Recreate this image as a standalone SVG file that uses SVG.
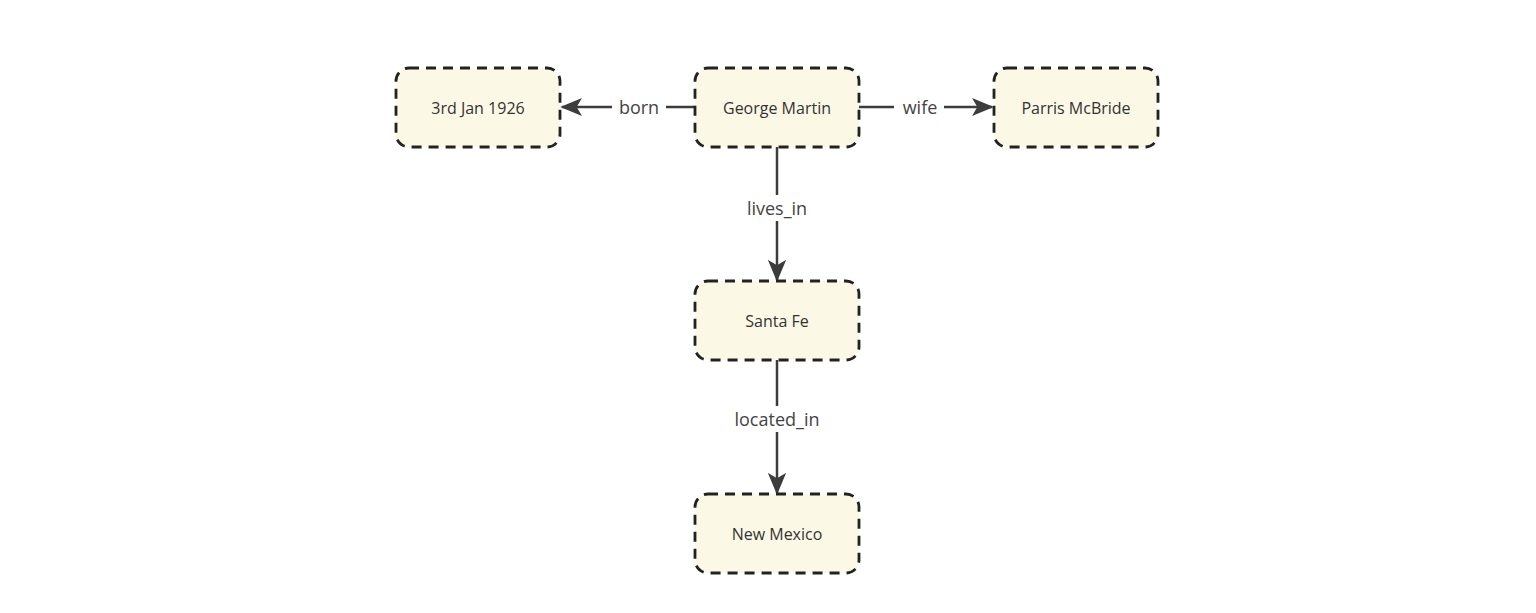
<svg xmlns="http://www.w3.org/2000/svg" width="1536" height="613" viewBox="0 0 1536 613">
<style>
.node rect{fill:#fcf8e6;stroke:#222;stroke-width:2.8;stroke-dasharray:10 7}
.node text{font-family:"Open Sans",sans-serif;font-size:16px;fill:#333;text-anchor:middle;dominant-baseline:central}
.edge{stroke:#3c3c3c;stroke-width:2.5;fill:none}
.lbl{font-family:"Open Sans",sans-serif;font-size:18px;fill:#444;text-anchor:middle;dominant-baseline:central}
.lblbg{fill:#fff}
</style>
<defs>
<marker id="arr" viewBox="0 0 12 12" refX="11" refY="6" markerWidth="22" markerHeight="22" markerUnits="userSpaceOnUse" orient="auto">
<path d="M0,1 L12,6 L0,11 L3,6 Z" fill="#3c3c3c"/>
</marker>
</defs>
<rect width="1536" height="613" fill="#fff"/>
<g id="connectors">
<line class="edge" x1="695" y1="107" x2="562" y2="107" marker-end="url(#arr)"/>
<line class="edge" x1="859" y1="107" x2="992" y2="107" marker-end="url(#arr)"/>
<line class="edge" x1="777" y1="147" x2="777" y2="280" marker-end="url(#arr)"/>
<line class="edge" x1="777" y1="360" x2="777" y2="493" marker-end="url(#arr)"/>
<rect class="lblbg" x="612" y="95" width="54" height="24"/>
<text class="lbl" x="639" y="107">born</text>
<rect class="lblbg" x="894" y="95" width="50" height="24"/>
<text class="lbl" x="920" y="107">wife</text>
<rect class="lblbg" x="738" y="195" width="78" height="26"/>
<text class="lbl" x="777" y="208">lives_in</text>
<rect class="lblbg" x="726" y="406" width="102" height="26"/>
<text class="lbl" x="777" y="419">located_in</text>
</g>
<g id="n_born" class="node"><rect x="396" y="68" width="164" height="79" rx="13"/><text x="478" y="107.5">3rd Jan 1926</text></g>
<g id="n_george" class="node"><rect x="695" y="68" width="164" height="79" rx="13"/><text x="777" y="107.5">George Martin</text></g>
<g id="n_parris" class="node"><rect x="994" y="68" width="164" height="79" rx="13"/><text x="1076" y="107.5">Parris McBride</text></g>
<g id="n_santafe" class="node"><rect x="695" y="281" width="164" height="79" rx="13"/><text x="777" y="320.5">Santa Fe</text></g>
<g id="n_newmexico" class="node"><rect x="695" y="494" width="164" height="79" rx="13"/><text x="777" y="533.5">New Mexico</text></g>
</svg>
